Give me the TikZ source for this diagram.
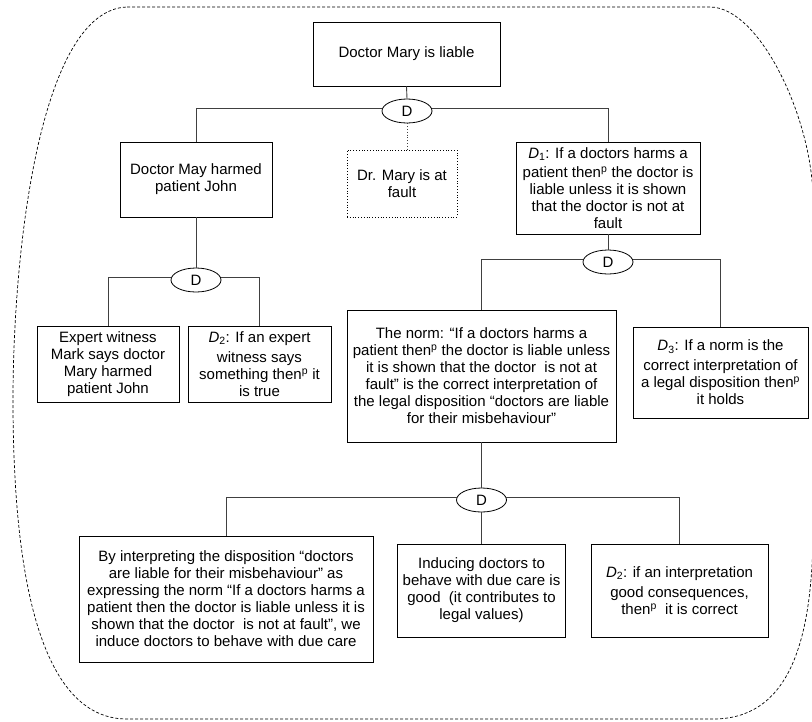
\documentclass[tikz,border=0pt]{standalone}
\usepackage{fontspec}
\setmainfont{Liberation Sans}
\usetikzlibrary{shapes.geometric}
\tikzset{
  box/.style={draw=black, line width=0.8pt, align=center, inner sep=2pt,
    font=\fontsize{15}{17}\selectfont, fill=white},
  dotbox/.style={box, dotted},
  dnode/.style={draw=black, line width=0.8pt, ellipse, minimum width=50pt,
    minimum height=24pt, inner sep=0pt, fill=white, font=\fontsize{15}{17}\selectfont},
  conn/.style={draw=black!75, line width=0.9pt},
  dotconn/.style={draw=black!75, line width=0.8pt, dotted},
  border/.style={draw=black, line width=0.7pt, dash pattern=on 3pt off 2pt}
}
\begin{document}
\begin{tikzpicture}[x=1pt,y=-1pt]
\fill[white] (0,0) rectangle (812,721);
\useasboundingbox (0,0) rectangle (812,721);
% dashed boundary
\draw[border] (127,7) -- (710,7)
  .. controls (760,7) and (813,120) .. (813,200)
  -- (813,527)
  .. controls (813,650) and (785,719) .. (713,719)
  -- (127,719)
  .. controls (55,719) and (13,620) .. (13,400)
  .. controls (13,250) and (40,10) .. (127,7) -- cycle;

% nodes
\node[box, minimum width=187pt, minimum height=64pt] (top) at (406.5,54) {Doctor Mary is liable};
\node[dnode] (e1) at (407,111) {D};
\node[box, minimum width=152pt, minimum height=75pt] (dmay) at (196,179.5) {Doctor May harmed\\patient John};
\node[dotbox, minimum width=110pt, minimum height=67pt] (fault) at (402,183.5) {Dr. Mary is at\\fault};
\node[box, minimum width=184pt, minimum height=92pt] (d1) at (608,188)
  {\textit{D}\textsubscript{1}: If a doctors harms a\\[2pt] patient then\textsuperscript{p} the doctor is\\ liable unless it is shown\\ that the doctor is not at\\ fault};

\node[dnode] (e3) at (196,280) {D};
\node[box, minimum width=142pt, minimum height=76pt] (expert) at (108,364)
  {Expert witness\\Mark says doctor\\Mary harmed\\patient John};
\node[box, minimum width=143pt, minimum height=76pt] (d2) at (259.5,364)
  {\textit{D}\textsubscript{2}: If an expert\\[3pt] witness says\\ something then\textsuperscript{p} it\\ is true};

\node[dnode] (e2) at (608,262) {D};
\node[box, minimum width=269pt, minimum height=132pt] (norm) at (481.5,376)
  {The norm: “If a doctors harms a\\ patient then\textsuperscript{p} the doctor is liable unless\\ it is shown that the doctor\ \ is not at\\ fault” is the correct interpretation of\\ the legal disposition “doctors are liable\\ for their misbehaviour”};
\node[box, minimum width=175pt, minimum height=91pt] (d3) at (720.5,372.5)
  {\textit{D}\textsubscript{3}: If a norm is the\\[3pt] correct interpretation of\\ a legal disposition then\textsuperscript{p}\\ it holds};

\node[dnode] (e4) at (481.5,500) {D};
\node[box, minimum width=294pt, minimum height=126pt] (by) at (226,599)
  {By interpreting the disposition “doctors\\ are liable for their misbehaviour” as\\ expressing the norm “If a doctors harms a\\ patient then the doctor is liable unless it is\\ shown that the doctor\ \ is not at fault”, we\\ induce doctors to behave with due care};
\node[box, minimum width=168pt, minimum height=93pt] (induce) at (481.5,590.5)
  {Inducing doctors to\\ behave with due care is\\ good\ \ (it contributes to\\ legal values)};
\node[box, minimum width=177pt, minimum height=93pt] (d2b) at (679.5,590.5)
  {\textit{D}\textsubscript{2}: if an interpretation\\[3pt] good consequences,\\ then\textsuperscript{p}\ \ it is correct};

% connectors
\draw[conn] (top.south) -- (e1.north);
\draw[conn] (e1.173) -- (dmay.north |- e1.173) -- (dmay.north);
\draw[conn] (e1.7) -- (d1.north |- e1.7) -- (d1.north);
\draw[dotconn] (e1.south) -- (e1.south |- fault.north);

\draw[conn] (dmay.south) -- (e3.north);
\draw[conn] (e3.173) -- (expert.north |- e3.173) -- (expert.north);
\draw[conn] (e3.7) -- (d2.north |- e3.7) -- (d2.north);

\draw[conn] (d1.south) -- (e2.north);
\draw[conn] (e2.173) -- (norm.north |- e2.173) -- (norm.north);
\draw[conn] (e2.7) -- (d3.north |- e2.7) -- (d3.north);

\draw[conn] (norm.south) -- (e4.north);
\draw[conn] (e4.173) -- (by.north |- e4.173) -- (by.north);
\draw[conn] (e4.south) -- (induce.north);
\draw[conn] (e4.7) -- (d2b.north |- e4.7) -- (d2b.north);
\end{tikzpicture}
\end{document}
